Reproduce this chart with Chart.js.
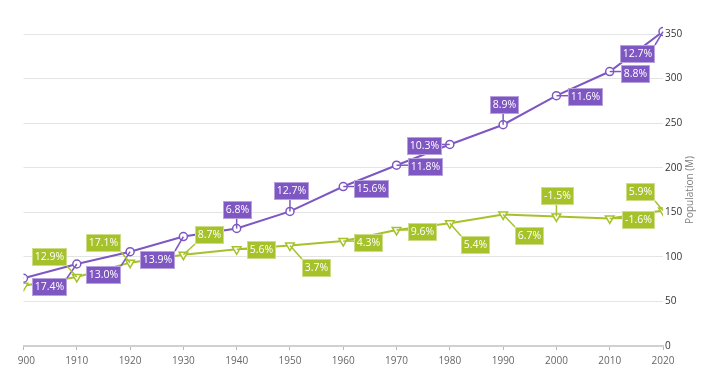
<!DOCTYPE html>
<html>
<head>
<meta charset="utf-8">
<script src="https://cdn.jsdelivr.net/npm/chart.js@4.4.1/dist/chart.umd.min.js"></script>
<style>
  html, body { margin: 0; padding: 0; background: #fff; overflow: hidden; }
  #wrap { position: absolute; left: 17px; top: 0; width: 687px; height: 374px; }
</style>
</head>
<body>
<div id="wrap"><canvas id="popChart" width="687" height="374"></canvas></div>
<script>
const years = ['1900', '1910', '1920', '1930', '1940', '1950', '1960', '1970', '1980', '1990', '2000', '2010', '2020'];
const purpleValues = [76.0, 92.0, 105.8, 122.8, 131.8, 151.0, 178.9, 202.8, 226.1, 248.2, 280.8, 307.9, 352.7];
const greenValues = [67.5, 77.5, 93.5, 102.4, 108.5, 112.7, 117.7, 130.2, 137.7, 147.6, 145.4, 143.1, 152.1];
const purpleGrowth = [null, '17.4%', '13.0%', '13.9%', '6.8%', '12.7%', '15.6%', '11.8%', '10.3%', '8.9%', '11.6%', '8.8%', '12.7%'];
const greenGrowth = [null, '12.9%', '17.1%', '8.7%', '5.6%', '3.7%', '4.3%', '9.6%', '5.4%', '6.7%', '-1.5%', '-1.6%', '5.9%'];
const yAxisTitle = 'Population (M)';

const purple = '#7e57c2';
const green = '#a6c22a';

// where each label box sits, relative to its point (box centre)
const purpleOffsets = [null, [-27, 23], [-27, 23], [-26, 23], [1, -19], [2, -20], [28, 2], [29, 2], [-25, 2], [1, -20], [29, 1], [26, 2], [-26, 22]];
const greenOffsets = [null, [-27, -20], [-27, -20], [26, -20], [25, 1], [27, 22], [25, 2], [26, 2], [26, 22], [26, 22], [1, -20], [29, 2], [-23, -18]];

Chart.defaults.font.family = '"Open Sans", sans-serif';
Chart.defaults.font.size = 10;

// boxed growth labels with a leader line back to the point
const growthLabels = {
    id: 'growthLabels',
    afterDatasetsDraw(chart, args, opts) {
        const ctx = chart.ctx;
        ctx.save();
        ctx.font = '10.5px "Open Sans", sans-serif';
        ctx.textAlign = 'center';
        ctx.textBaseline = 'middle';
        opts.sets.forEach((set, di) => {
            const meta = chart.getDatasetMeta(di);
            meta.data.forEach((pt, i) => {
                const text = set.texts[i];
                if (!text) return;
                const w = Math.round(ctx.measureText(text).width + 6);
                const h = 18;
                const cx = pt.x + set.offsets[i][0];
                const cy = pt.y + set.offsets[i][1];
                const l = Math.round(cx - w / 2), t = Math.round(cy - h / 2);
                // nearest point on the box
                const nx = Math.min(Math.max(pt.x, l), l + w);
                const ny = Math.min(Math.max(pt.y, t), t + h);
                ctx.strokeStyle = set.color;
                ctx.lineWidth = 1.5;
                ctx.beginPath();
                ctx.moveTo(pt.x, pt.y);
                ctx.lineTo(nx, ny);
                ctx.stroke();
                ctx.fillStyle = set.color;
                ctx.fillRect(l, t, w, h);
                ctx.strokeStyle = 'rgba(255,255,255,0.45)';
                ctx.lineWidth = 1;
                ctx.strokeRect(l + 0.5, t + 0.5, w - 1, h - 1);
                ctx.fillStyle = '#fff';
                ctx.fillText(text, l + w / 2, t + h / 2 + 0.5);
            });
        });
        ctx.restore();
    }
};

// axis title on the right, reading bottom to top
const rightTitle = {
    id: 'rightTitle',
    afterDraw(chart, args, opts) {
        const ctx = chart.ctx;
        const area = chart.chartArea;
        ctx.save();
        ctx.translate(opts.x, (area.top + area.bottom) / 2);
        ctx.rotate(-Math.PI / 2);
        ctx.font = '10px "Open Sans", sans-serif';
        ctx.fillStyle = '#808080';
        ctx.textAlign = 'center';
        ctx.textBaseline = 'middle';
        ctx.fillText(opts.text, 0, 0);
        ctx.restore();
    }
};

const ctx = document.getElementById('popChart').getContext('2d');
new Chart(ctx, {
    type: 'line',
    data: {
        labels: years,
        datasets: [{
            data: purpleValues,
            borderColor: purple,
            borderWidth: 2,
            pointStyle: 'circle',
            pointRadius: 4,
            pointBorderWidth: 1.5,
            pointBackgroundColor: '#fff',
            pointBorderColor: purple,
            tension: 0,
            clip: { left: 0, top: false, right: 0, bottom: 0 }
        }, {
            data: greenValues,
            borderColor: green,
            borderWidth: 2,
            pointStyle: 'triangle',
            pointRotation: 180,
            pointRadius: 5,
            pointBorderWidth: 1.5,
            pointBackgroundColor: '#fff',
            pointBorderColor: green,
            tension: 0,
            clip: { left: 0, top: false, right: 0, bottom: 0 }
        }]
    },
    options: {
        responsive: false,
        animation: false,
        layout: { padding: { top: 34, left: 6, right: 0, bottom: 0 } },
        plugins: {
            legend: { display: false },
            tooltip: { enabled: false },
            growthLabels: {
                sets: [
                    { texts: purpleGrowth, offsets: purpleOffsets, color: purple },
                    { texts: greenGrowth, offsets: greenOffsets, color: green }
                ]
            },
            rightTitle: { text: yAxisTitle, x: 673 }
        },
        scales: {
            x: {
                grid: { drawOnChartArea: false, drawTicks: true, tickLength: 4, color: '#b8b8b8' },
                border: { color: '#d0d0d0', width: 2 },
                ticks: { color: '#666', padding: 5, maxRotation: 0, autoSkip: false },
                afterFit(scale) {
                    scale.height = 28;
                    scale.paddingLeft = 0;
                    scale.paddingRight = 0;
                }
            },
            y: {
                position: 'right',
                min: 0,
                max: 350,
                grid: { color: '#e4e4e4', drawTicks: false },
                border: { display: false },
                ticks: { stepSize: 50, color: '#333', padding: 2 },
                afterFit(scale) {
                    scale.width = 41;
                }
            }
        }
    },
    plugins: [growthLabels, rightTitle]
});
</script>
</body>
</html>
